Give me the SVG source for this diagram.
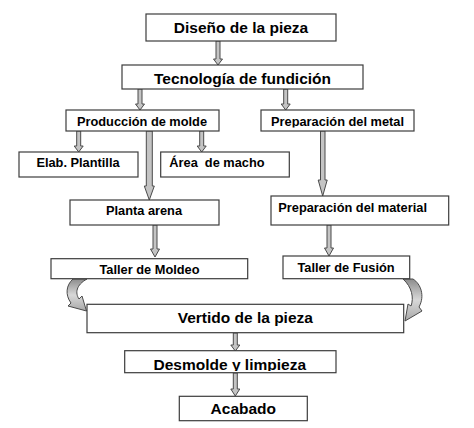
<svg xmlns="http://www.w3.org/2000/svg" width="474" height="428" viewBox="0 0 474 428">
<style>
.box{fill:#fff;stroke:#3c3c3c;stroke-width:1.2}
.t{font-family:"Liberation Sans",Arial,sans-serif;font-weight:bold;fill:#000;text-anchor:middle}
.big{font-size:15.5px}
.sm{font-size:12.8px}
.arr{fill:#c4c4c4;stroke:#4a4a4a;stroke-width:1;stroke-linejoin:miter}
.cur{fill:url(#cg);stroke:#4a4a4a;stroke-width:1}
</style>
<defs>
<linearGradient id="cg" x1="0" y1="0" x2="0" y2="1">
<stop offset="0" stop-color="#8c8c8c"/>
<stop offset="0.5" stop-color="#d8d8d8"/>
<stop offset="1" stop-color="#a8a8a8"/>
</linearGradient>
<clipPath id="cPM"><rect x="261" y="110" width="153" height="17.5"/></clipPath>
<clipPath id="cTM"><rect x="51" y="258" width="197" height="17.6"/></clipPath>
<clipPath id="cDL"><rect x="125" y="351" width="211" height="20"/></clipPath>
</defs>
<rect width="474" height="428" fill="#fff"/>
<g id="connectors">
<path class="arr" d="M216,41 L220,41 L220,59 L222.5,59 L218,65 L213.5,59 L216,59 Z"/>
<path class="arr" d="M138,89 L142,89 L142,104 L144.5,104 L140,110 L135.5,104 L138,104 Z"/>
<path class="arr" d="M283.7,89 L287.7,89 L287.7,104 L290.2,104 L285.7,110 L281.2,104 L283.7,104 Z"/>
<path class="arr" d="M76.7,131 L80.7,131 L80.7,146 L83.2,146 L78.7,152 L74.2,146 L76.7,146 Z"/>
<path class="arr" d="M199.7,131 L203.7,131 L203.7,146 L206.2,146 L201.7,152 L197.2,146 L199.7,146 Z"/>
<path class="arr" d="M146.3,131 L152.3,131 L152.3,186 L154.3,186 L149.3,200 L144.3,186 L146.3,186 Z"/>
<path class="arr" d="M320.5,131 L325,131 L325,180 L327.2,180 L322.7,196 L318.2,180 L320.5,180 Z"/>
<path class="arr" d="M153,225 L157,225 L157,249 L159.5,249 L155,257 L150.5,249 L153,249 Z"/>
<path class="arr" d="M327,225 L331,225 L331,248 L333.5,248 L329,256 L324.5,248 L327,248 Z"/>
<path class="arr" d="M233.3,333 L237.3,333 L237.3,345 L239.8,345 L235.3,351 L230.8,345 L233.3,345 Z"/>
<path class="arr" d="M233.3,373 L237.3,373 L237.3,389 L239.8,389 L235.3,396 L230.8,389 L233.3,389 Z"/>
<path class="cur" d="M87,279 L73,279 C66,285 65,295 71,303 L68,306 L86.5,311 L82,296 L79,299 C75,293 76,285 87,279 Z"/>
<path class="cur" d="M403,279 L413,279 C421,284 425,296 419,307 L422,311 L405,321 L408,304 L411,306 C414,298 412,287 403,279 Z"/>
</g>
<g id="n-diseno"><rect class="box" x="146" y="14" width="190" height="27"/><text class="t big" x="241" y="32.5">Diseño de la pieza</text></g>
<g id="n-tecnologia"><rect class="box" x="122" y="65" width="241" height="24"/><text class="t big" x="242.5" y="83.5">Tecnología de fundición</text></g>
<g id="n-produccion"><rect class="box" x="66" y="110" width="153" height="21"/><text class="t sm" x="142" y="126">Producción de molde</text></g>
<g id="n-prepmetal"><rect class="box" x="261" y="110" width="153" height="21"/><text class="t sm" x="337.5" y="126" clip-path="url(#cPM)">Preparación del metal</text></g>
<g id="n-plantilla"><rect class="box" x="19" y="152" width="119" height="25"/><text class="t sm" x="78" y="166.7">Elab. Plantilla</text></g>
<g id="n-macho"><rect class="box" x="160.7" y="152" width="128.6" height="25"/><text class="t sm" x="169.3" y="166.7" style="text-anchor:start" xml:space="preserve">Área  de macho</text></g>
<g id="n-planta"><rect class="box" x="70" y="200" width="149" height="25"/><text class="t sm" x="144" y="215">Planta arena</text></g>
<g id="n-prepmaterial"><rect class="box" x="271" y="196" width="177.7" height="29"/><text class="t sm" x="278.3" y="212.3" style="text-anchor:start">Preparación del material</text></g>
<g id="n-moldeo"><rect class="box" x="51" y="258.7" width="196.7" height="20"/><text class="t sm" x="149.5" y="274" clip-path="url(#cTM)">Taller de Moldeo</text></g>
<g id="n-fusion"><rect class="box" x="283" y="256" width="126.7" height="22.7"/><text class="t sm" x="346" y="271.7">Taller de Fusión</text></g>
<g id="n-vertido"><rect class="box" x="87" y="304.3" width="316.7" height="28.4"/><text class="t big" x="245.3" y="323.3">Vertido de la pieza</text></g>
<g id="n-desmolde"><rect class="box" x="124.7" y="350.7" width="211.3" height="22"/><text class="t big" x="229.8" y="370" clip-path="url(#cDL)">Desmolde y limpieza</text></g>
<g id="n-acabado"><rect class="box" x="179.3" y="396.3" width="128" height="24.4"/><text class="t big" x="243.3" y="414.3">Acabado</text></g>
</svg>
